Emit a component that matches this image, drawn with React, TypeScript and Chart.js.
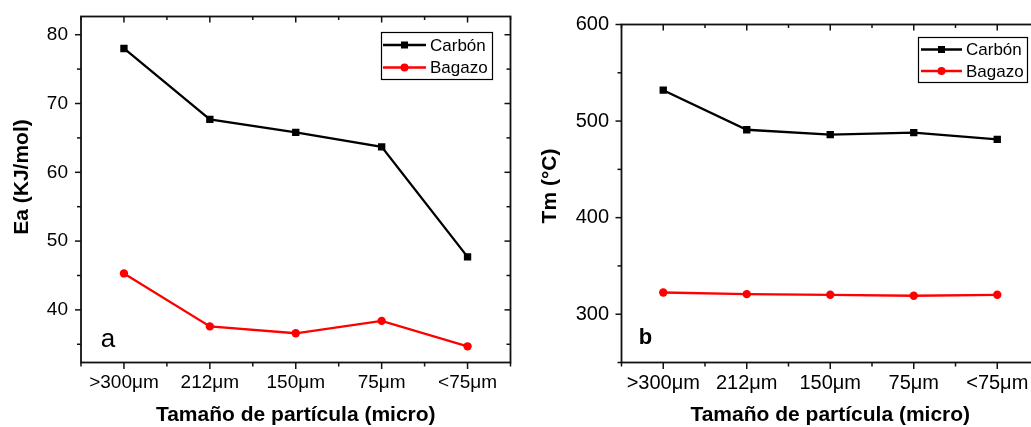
import { useEffect, useRef } from "react";
import { Chart, registerables } from "chart.js";

Chart.register(...registerables);

// Particle-size classes shared by both panels
const categories = [">300μm", "212μm", "150μm", "75μm", "<75μm"];

// Panel a: activation energy (KJ/mol)
const eaCarbon = [78.0, 67.7, 65.8, 63.7, 47.7];
const eaBagazo = [45.3, 37.6, 36.6, 38.4, 34.7];
const eaTicks = [40, 50, 60, 70, 80];
const eaMinorTicks = [35, 45, 55, 65, 75];

// Panel b: temperature of maximum rate (°C)
const tmCarbon = [532, 491, 486, 488, 481];
const tmBagazo = [322.5, 320.8, 320.1, 319.1, 320.1];
const tmTicks = [300, 400, 500, 600];
const tmMinorTicks = [250, 350, 450, 550];

const seriesNames = ["Carbón", "Bagazo"];
const xTitle = "Tamaño de partícula (micro)";

const FONT = "'Liberation Sans', Arial, sans-serif";

type PanelSpec = {
  carbon: number[];
  bagazo: number[];
  yMin: number;
  yMax: number;
  yTicks: number[];
  yMinor: number[];
  yTitle: string;
  letter: string;
  letterFont: string;
  letterPos: [number, number];
  yTitlePos: [number, number];
  canvasLeft: number;
  canvasWidth: number;
  area: { left: number; right: number; top: number; bottom: number };
  tickFontSize: number;
  yLabelGap: number;
  legend: { left: number; top: number; width: number; height: number; rows: number[]; lineStart: number; lineEnd: number; textX: number };
};

const HEIGHT = 427;

const panels: PanelSpec[] = [
  {
    carbon: eaCarbon,
    bagazo: eaBagazo,
    yMin: 32.35,
    yMax: 82.65,
    yTicks: eaTicks,
    yMinor: eaMinorTicks,
    yTitle: "Ea (KJ/mol)",
    letter: "a",
    letterFont: `26px ${FONT}`,
    letterPos: [108, 340],
    yTitlePos: [22, 177],
    canvasLeft: 0,
    canvasWidth: 520,
    area: { left: 81, right: 510.5, top: 16.5, bottom: 362.5 },
    tickFontSize: 19,
    yLabelGap: 13,
    legend: { left: 381.5, top: 32.5, width: 111, height: 47, rows: [45, 67.5], lineStart: 383, lineEnd: 426, textX: 430 },
  },
  {
    carbon: tmCarbon,
    bagazo: tmBagazo,
    yMin: 250,
    yMax: 600,
    yTicks: tmTicks,
    yMinor: tmMinorTicks,
    yTitle: "Tm (°C)",
    letter: "b",
    letterFont: `bold 22px ${FONT}`,
    letterPos: [125.5, 338],
    yTitlePos: [30, 186],
    canvasLeft: 520,
    canvasWidth: 530,
    area: { left: 101.5, right: 519, top: 24.5, bottom: 362.5 },
    tickFontSize: 20,
    yLabelGap: 12.5,
    legend: { left: 398.5, top: 37.5, width: 109, height: 45, rows: [49.5, 71], lineStart: 401, lineEnd: 442, textX: 446 },
  },
];

function line(ctx: CanvasRenderingContext2D, x1: number, y1: number, x2: number, y2: number) {
  ctx.beginPath();
  ctx.moveTo(x1, y1);
  ctx.lineTo(x2, y2);
  ctx.stroke();
}

function makeFramePlugin(spec: PanelSpec) {
  return {
    id: "originFrame",
    beforeDatasetsDraw(chart: any) {
      const ctx: CanvasRenderingContext2D = chart.ctx;
      const { left, right, top, bottom } = chart.chartArea;
      const xs = chart.scales.x;
      const ys = chart.scales.y;
      ctx.save();
      ctx.strokeStyle = "#111";
      ctx.lineWidth = 1.8;
      ctx.strokeRect(left, top, right - left, bottom - top);

      // category ticks: outward on the bottom, inward on the top
      ctx.lineWidth = 1.5;
      categories.forEach((_, i) => {
        const px = xs.getPixelForValue(i);
        line(ctx, px, bottom, px, bottom + 6.5);
        line(ctx, px, top, px, top + 6);
      });
      for (let i = 0; i <= categories.length; i++) {
        const px = xs.getPixelForValue(i - 0.5);
        line(ctx, px, bottom, px, bottom + 4);
        line(ctx, px, top, px, top + 3.5);
      }
      // value ticks: outward on the left, inward on the right
      spec.yTicks.forEach((v) => {
        const py = ys.getPixelForValue(v);
        line(ctx, left - 6, py, left, py);
        line(ctx, right - 6, py, right, py);
      });
      spec.yMinor.forEach((v) => {
        const py = ys.getPixelForValue(v);
        line(ctx, left - 4, py, left, py);
        line(ctx, right - 4, py, right, py);
      });
      ctx.restore();
    },
    afterDraw(chart: any) {
      const ctx: CanvasRenderingContext2D = chart.ctx;
      const { left, right } = chart.chartArea;
      ctx.save();
      ctx.fillStyle = "#000";

      // axis titles
      ctx.font = `bold 21px ${FONT}`;
      ctx.textAlign = "center";
      ctx.textBaseline = "middle";
      ctx.fillText(xTitle, (left + right) / 2, 415);
      ctx.save();
      ctx.translate(spec.yTitlePos[0], spec.yTitlePos[1]);
      ctx.rotate(-Math.PI / 2);
      ctx.fillText(spec.yTitle, 0, 0);
      ctx.restore();

      // panel letter
      ctx.font = spec.letterFont;
      ctx.fillText(spec.letter, spec.letterPos[0], spec.letterPos[1]);

      // legend box
      const lg = spec.legend;
      ctx.fillStyle = "#fff";
      ctx.fillRect(lg.left, lg.top, lg.width, lg.height);
      ctx.strokeStyle = "#000";
      ctx.lineWidth = 1.2;
      ctx.strokeRect(lg.left, lg.top, lg.width, lg.height);
      chart.data.datasets.forEach((ds: any, i: number) => {
        const y = lg.rows[i];
        ctx.strokeStyle = ds.borderColor;
        ctx.lineWidth = 2.3;
        line(ctx, lg.lineStart, y, lg.lineEnd, y);
        ctx.fillStyle = ds.backgroundColor;
        const mx = (lg.lineStart + lg.lineEnd) / 2;
        ctx.beginPath();
        if (ds.pointStyle === "rect") {
          ctx.rect(mx - 3.5, y - 3.5, 7, 7);
        } else {
          ctx.arc(mx, y, 4, 0, Math.PI * 2);
        }
        ctx.fill();
        ctx.fillStyle = "#000";
        ctx.font = `17px ${FONT}`;
        ctx.textAlign = "left";
        ctx.textBaseline = "middle";
        ctx.fillText(ds.label, lg.textX, y + 1);
      });
      ctx.restore();
    },
  };
}

function Panel({ spec }: { spec: PanelSpec }) {
  const ref = useRef<HTMLCanvasElement | null>(null);

  useEffect(() => {
    if (!ref.current) return;
    const a = spec.area;
    const chart = new Chart(ref.current, {
      type: "line",
      data: {
        labels: categories,
        datasets: [
          {
            label: seriesNames[0],
            data: spec.carbon,
            borderColor: "#000000",
            backgroundColor: "#000000",
            borderWidth: 2.3,
            pointStyle: "rect",
            pointRadius: 5.2,
            pointBorderWidth: 0,
            tension: 0,
          },
          {
            label: seriesNames[1],
            data: spec.bagazo,
            borderColor: "#ff0000",
            backgroundColor: "#ff0000",
            borderWidth: 2.3,
            pointStyle: "circle",
            pointRadius: 4.2,
            pointBorderWidth: 0,
            tension: 0,
          },
        ],
      },
      options: {
        animation: false,
        responsive: false,
        maintainAspectRatio: false,
        layout: {
          padding: { left: 0, top: a.top, right: spec.canvasWidth - a.right, bottom: 0 },
        },
        plugins: {
          legend: { display: false },
          tooltip: { enabled: false },
        },
        scales: {
          x: {
            type: "category",
            offset: true,
            grid: { display: false, drawTicks: false },
            border: { display: false },
            ticks: {
              color: "#000",
              font: { family: FONT, size: spec.tickFontSize },
              padding: 9,
              maxRotation: 0,
              autoSkip: false,
            },
            afterFit: (scale: any) => {
              scale.height = HEIGHT - a.bottom;
              scale.paddingLeft = 0;
              scale.paddingRight = 0;
            },
          },
          y: {
            type: "linear",
            min: spec.yMin,
            max: spec.yMax,
            grid: { display: false, drawTicks: false },
            border: { display: false },
            ticks: {
              color: "#000",
              font: { family: FONT, size: spec.tickFontSize },
              padding: spec.yLabelGap,
            },
            afterBuildTicks: (scale: any) => {
              scale.ticks = spec.yTicks.map((v) => ({ value: v }));
            },
            afterFit: (scale: any) => {
              scale.width = a.left;
              scale.paddingTop = 0;
              scale.paddingBottom = 0;
            },
          },
        },
      },
      plugins: [makeFramePlugin(spec)],
    } as any);
    return () => chart.destroy();
  }, [spec]);

  return (
    <canvas
      ref={ref}
      width={spec.canvasWidth}
      height={HEIGHT}
      style={{ position: "absolute", left: spec.canvasLeft, top: 0, width: spec.canvasWidth, height: HEIGHT }}
    />
  );
}

export default function App() {
  return (
    <div
      style={{
        position: "absolute",
        left: 0,
        top: 0,
        width: 1031,
        height: HEIGHT,
        overflow: "hidden",
        background: "#fff",
      }}
    >
      {panels.map((p, i) => (
        <Panel key={i} spec={p} />
      ))}
    </div>
  );
}
